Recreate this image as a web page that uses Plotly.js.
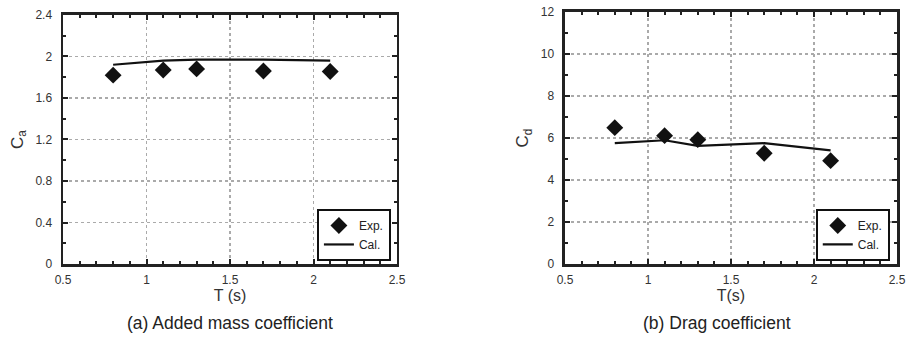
<!DOCTYPE html>
<html>
<head>
<meta charset="utf-8">
<script src="https://cdn.plot.ly/plotly-3.0.1.min.js"></script>
<style>html,body{margin:0;padding:0;background:#fff;}#chart{width:907px;height:340px;}</style>
</head>
<body>
<div id="chart"></div>
<script>
// Periods (s)
const periods = [0.8, 1.1, 1.3, 1.7, 2.1];
// (a) Added mass coefficient
const caExp = [1.82, 1.87, 1.88, 1.86, 1.855];
const caCal = [1.92, 1.96, 1.97, 1.97, 1.96];
// (b) Drag coefficient
const cdExp = [6.49, 6.11, 5.92, 5.27, 4.92];
const cdCal = [5.75, 5.89, 5.62, 5.75, 5.41];

const xTicks = [0.5, 1, 1.5, 2, 2.5];
const caTicks = [0, 0.4, 0.8, 1.2, 1.6, 2, 2.4];
const cdTicks = [0, 2, 4, 6, 8, 10, 12];

const font = {family: 'Liberation Sans, Arial, sans-serif', color: '#333', size: 12};

function expTrace(y, xa, ya, leg) {
  return {x: periods, y: y, xaxis: xa, yaxis: ya, legend: leg, type: 'scatter', mode: 'markers',
    name: 'Exp.', marker: {symbol: 'diamond', size: 13, color: '#111'}};
}
function calTrace(y, xa, ya, leg) {
  return {x: periods, y: y, xaxis: xa, yaxis: ya, legend: leg, type: 'scatter', mode: 'lines',
    name: 'Cal.', line: {color: '#111', width: 2.2}};
}

const data = [
  expTrace(caExp, 'x', 'y', 'legend'),
  calTrace(caCal, 'x', 'y', 'legend'),
  expTrace(cdExp, 'x2', 'y2', 'legend2'),
  calTrace(cdCal, 'x2', 'y2', 'legend2')
];

function xAxis(domain, anchor, title) {
  return {domain: domain, anchor: anchor, range: [0.5, 2.5], tickmode: 'array', tickvals: xTicks,
    ticktext: xTicks.map(String), ticks: 'inside', ticklen: 5, tickwidth: 2, tickcolor: '#222',
    showline: true, linewidth: 2.5, linecolor: '#222', mirror: 'ticks', zeroline: false,
    showgrid: true, gridcolor: '#aaa', griddash: 'dot', gridwidth: 1.5, ticklabelstandoff: 3,
    minor: {dtick: 0.1, ticks: 'inside', ticklen: 3, tickwidth: 2, tickcolor: '#222', showgrid: false},
    tickfont: font, title: {text: title, font: {family: font.family, size: 16, color: '#333'}, standoff: 1}};
}
function yAxis(domain, anchor, range, ticks, title, minorD) {
  return {domain: domain, anchor: anchor, range: range, tickmode: 'array', tickvals: ticks,
    ticktext: ticks.map(String), ticks: 'inside', ticklen: 5, tickwidth: 2, tickcolor: '#222',
    showline: true, linewidth: 2.5, linecolor: '#222', mirror: 'ticks', zeroline: false,
    showgrid: true, gridcolor: '#aaa', griddash: 'dot', gridwidth: 1.5, ticklabelstandoff: 6,
    minor: {dtick: minorD, ticks: 'inside', ticklen: 3, tickwidth: 2, tickcolor: '#222', showgrid: false},
    tickfont: font, title: {text: title, font: {family: font.family, size: 17, color: '#333'}, standoff: 8}};
}

const legendStyle = {bgcolor: '#fff', bordercolor: '#111', borderwidth: 2,
  font: {family: font.family, size: 12, color: '#222'}, xanchor: 'right', yanchor: 'bottom',
  tracegroupgap: 0, itemwidth: 30};

const layout = {
  width: 907, height: 340, margin: {l: 0, r: 0, t: 0, b: 0},
  paper_bgcolor: '#fff', plot_bgcolor: '#fff', showlegend: true,
  xaxis: xAxis([0.0695, 0.4377], 'y', 'T (s)'),
  yaxis: yAxis([0.2235, 0.956], 'x', [0, 2.4], caTicks, 'C<sub>a</sub>', 0.2),
  xaxis2: xAxis([0.6229, 0.989], 'y2', 'T(s)'),
  yaxis2: yAxis([0.2235, 0.965], 'x2', [0, 12], cdTicks, 'C<sub>d</sub>', 1),
  legend: Object.assign({x: 0.431, y: 0.2325}, legendStyle),
  legend2: Object.assign({x: 0.981, y: 0.2325}, legendStyle),
  annotations: [
    {text: '(a) Added mass coefficient', xref: 'paper', yref: 'paper', x: 0.2536, y: 0.049,
      xanchor: 'center', yanchor: 'middle', showarrow: false,
      font: {family: font.family, size: 17.5, color: '#222'}},
    {text: '(b) Drag coefficient', xref: 'paper', yref: 'paper', x: 0.7905, y: 0.049,
      xanchor: 'center', yanchor: 'middle', showarrow: false,
      font: {family: font.family, size: 17.5, color: '#222'}}
  ]
};

Plotly.newPlot('chart', data, layout, {displayModeBar: false, staticPlot: true});
</script>
</body>
</html>
